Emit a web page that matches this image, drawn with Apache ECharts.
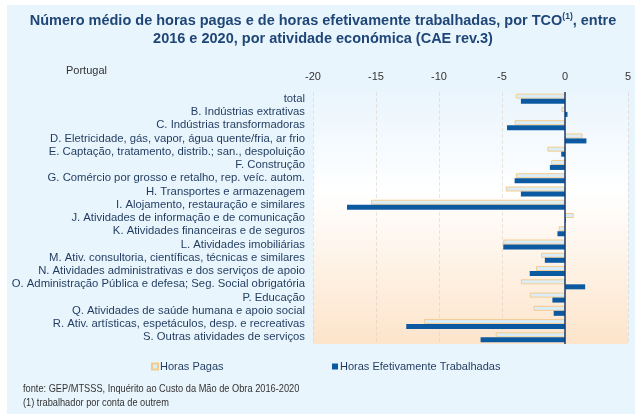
<!DOCTYPE html>
<html>
<head>
<meta charset="utf-8">
<script src="https://cdn.jsdelivr.net/npm/echarts@6/dist/echarts.min.js"></script>
<style>
  html, body { margin: 0; padding: 0; background: #fff; }
  #bg { position: absolute; left: 7px; top: 5px; width: 628px; height: 409px; background: #e9f5fd; }
  #chart { position: absolute; left: 0; top: 0; width: 635px; height: 414px; }
</style>
</head>
<body>
<div id="bg"></div>
<div id="chart"></div>
<script>
// categorias (CAE rev.3)
var categories = [
  'total',
  'B. Indústrias extrativas',
  'C. Indústrias transformadoras',
  'D. Eletricidade, gás, vapor, água quente/fria, ar frio',
  'E. Captação, tratamento, distrib.; san., despoluição',
  'F. Construção',
  'G. Comércio por grosso e retalho, rep. veíc. autom.',
  'H. Transportes e armazenagem',
  'I. Alojamento, restauração e similares',
  'J. Atividades de informação e de comunicação',
  'K. Atividades financeiras e de seguros',
  'L. Atividades imobiliárias',
  'M. Ativ. consultoria, científicas, técnicas e similares',
  'N. Atividades administrativas e dos serviços de apoio',
  'O. Administração Pública e defesa; Seg. Social obrigatória',
  'P. Educação',
  'Q. Atividades de saúde humana e apoio social',
  'R. Ativ. artísticas, espetáculos, desp. e recreativas',
  'S. Outras atividades de serviços'
]
var horasPagas = [-3.9, -0.3, -4.0, 1.4, -1.4, -1.1, -3.9, -4.7, -15.4, 0.7, -0.5, -4.9, -1.9, -2.3, -3.5, -2.8, -2.5, -11.2, -5.5]
var horasTrabalhadas = [-3.5, 0.2, -4.6, 1.7, -0.3, -1.2, -4.0, -3.5, -17.3, 0.05, -0.6, -4.9, -1.6, -2.8, 1.6, -1.0, -0.9, -12.6, -6.7]
var xTicks = { min: -20, max: 5, interval: 5 }

var textDark = '#1f3a5f'
var chart = echarts.init(document.getElementById('chart'))
var option = {
  animation: false,
  graphic: [
    {
      // titulo
      type: 'text',
      x: 323,
      y: 12,
      style: {
        text: '{t|Número médio de horas pagas e de horas efetivamente trabalhadas, por TCO}{s|(1)}{t|, entre}\n{t|2016 e 2020, por atividade económica (CAE rev.3)}',
        align: 'center',
        rich: {
          t: { fontFamily: 'Liberation Sans', fontWeight: 'bold', fontSize: 14.5, fill: '#1f4677', lineHeight: 18 },
          s: { fontFamily: 'Liberation Sans', fontWeight: 'bold', fontSize: 8.5, fill: '#1f4677', verticalAlign: 'top', lineHeight: 18, padding: [0, 0, 6, 0] }
        }
      }
    },
    {
      type: 'text',
      left: 66,
      top: 65,
      style: { text: 'Portugal', fontFamily: 'Liberation Sans', fontSize: 11, fill: '#333' }
    },
    {
      type: 'text',
      x: 23,
      y: 382,
      scaleX: 0.84,
      style: {
        text: 'fonte: GEP/MTSSS, Inquérito ao Custo da Mão de Obra 2016-2020\n(1) trabalhador por conta de outrem',
        fontFamily: 'Liberation Sans', fontSize: 11, lineHeight: 14, fill: '#333'
      }
    }
  ],
  legend: [
    {
      left: 146, top: 356,
      data: ['Horas Pagas'],
      icon: 'rect', itemWidth: 6, itemHeight: 6, itemGap: 2,
      textStyle: { fontFamily: 'Liberation Sans', fontSize: 11, color: textDark, padding: [0, 0, 0, -3] }
    },
    {
      left: 327, top: 356,
      data: ['Horas Efetivamente Trabalhadas'],
      icon: 'rect', itemWidth: 6, itemHeight: 6,
      textStyle: { fontFamily: 'Liberation Sans', fontSize: 11, color: textDark, padding: [0, 0, 0, -3] }
    }
  ],
  grid: {
    left: 313,
    top: 92,
    width: 315,
    height: 252,
    show: true,
    borderWidth: 0,
    backgroundColor: {
      type: 'linear', x: 0, y: 0, x2: 0, y2: 1,
      colorStops: [
        { offset: 0, color: '#eaf5fd' },
        { offset: 0.4, color: '#ffffff' },
        { offset: 1, color: '#fde4cb' }
      ]
    }
  },
  xAxis: {
    type: 'value',
    position: 'top',
    min: xTicks.min,
    max: xTicks.max,
    interval: xTicks.interval,
    axisLine: { show: false },
    axisTick: { show: false },
    axisLabel: { fontFamily: 'Liberation Sans', fontSize: 11, color: '#333', margin: 10 },
    splitLine: { show: true, lineStyle: { color: 'rgba(215,200,185,0.45)', type: 'dashed', width: 1 } }
  },
  yAxis: {
    type: 'category',
    inverse: true,
    data: categories,
    axisLine: { show: false },
    axisTick: { show: false },
    axisLabel: { interval: 0, fontFamily: 'Liberation Sans', fontSize: 11.3, color: textDark, margin: 8 }
  },
  series: [
    {
      name: 'Horas Pagas',
      type: 'bar',
      data: horasPagas,
      barWidth: 5,
      barGap: '0%',
      itemStyle: { color: '#d9eefa', borderColor: '#f5cb8c', borderWidth: 1 },
      markLine: {
        silent: true,
        symbol: 'none',
        label: { show: false },
        lineStyle: { color: '#1b3c6e', width: 1.5, type: 'solid' },
        data: [{ xAxis: 0 }]
      }
    },
    {
      name: 'Horas Efetivamente Trabalhadas',
      type: 'bar',
      data: horasTrabalhadas,
      barWidth: 5,
      itemStyle: { color: '#0b5aa1' }
    }
  ]
}
chart.setOption(option)
</script>
</body>
</html>
